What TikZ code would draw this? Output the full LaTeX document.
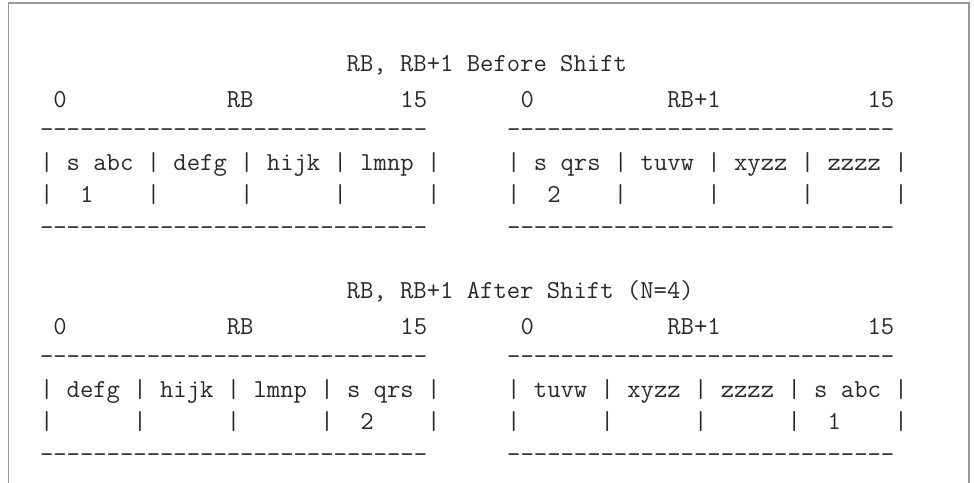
\documentclass[tikz,border=0pt]{standalone}
\usepackage{fontspec}
\definecolor{txtc}{HTML}{2A2A2A}
\definecolor{framec}{HTML}{9A9A9A}
\tikzset{
  asciiline/.style={anchor=base west, inner sep=0pt, outer sep=0pt, text=txtc,
    font=\ttfamily\fontsize{25.92}{30}\selectfont},
  framestyle/.style={draw=framec, line width=1.3pt}
}
\begin{document}
\begin{tikzpicture}[x=1pt,y=-1pt]
\useasboundingbox (0,0) rectangle (974,482);
\begin{scope}
\clip (0,0) rectangle (974,482);
\coordinate (fbl) at (8.5,490);
\coordinate (ftl) at (8.5,3);
\coordinate (ftr) at (969,3);
\coordinate (fbr) at (969,490);
\draw[framestyle] (fbl) -- (ftl) -- (ftr) -- (fbr);
\end{scope}
% group 1
\node[asciiline] (t1) at ({40+23*13.333},71) {RB, RB+1 Before Shift};
\node[asciiline] (n1) at (40,107) {~0~~~~~~~~~~~~RB~~~~~~~~~~~15~~~~~~~0~~~~~~~~~~RB+1~~~~~~~~~~~15};
\node[asciiline] (d1a) at (40,137) {-----------------------------~~~~~~-----------------------------};
\node[asciiline] (r1a) at (40,170) {|~s~abc~|~defg~|~hijk~|~lmnp~|~~~~~|~s~qrs~|~tuvw~|~xyzz~|~zzzz~|};
\node[asciiline] (r1b) at (40,202) {|~~1~~~~|~~~~~~|~~~~~~|~~~~~~|~~~~~|~~2~~~~|~~~~~~|~~~~~~|~~~~~~|};
\node[asciiline] (d1b) at (40,235) {-----------------------------~~~~~~-----------------------------};
% group 2
\node[asciiline] (t2) at ({40+23*13.333},298) {RB, RB+1 After Shift (N=4)};
\node[asciiline] (n2) at (40,334) {~0~~~~~~~~~~~~RB~~~~~~~~~~~15~~~~~~~0~~~~~~~~~~RB+1~~~~~~~~~~~15};
\node[asciiline] (d2a) at (40,364) {-----------------------------~~~~~~-----------------------------};
\node[asciiline] (r2a) at (40,397) {|~defg~|~hijk~|~lmnp~|~s~qrs~|~~~~~|~tuvw~|~xyzz~|~zzzz~|~s~abc~|};
\node[asciiline] (r2b) at (40,429) {|~~~~~~|~~~~~~|~~~~~~|~~2~~~~|~~~~~|~~~~~~|~~~~~~|~~~~~~|~~1~~~~|};
\node[asciiline] (d2b) at (40,462) {-----------------------------~~~~~~-----------------------------};
\end{tikzpicture}
\end{document}
